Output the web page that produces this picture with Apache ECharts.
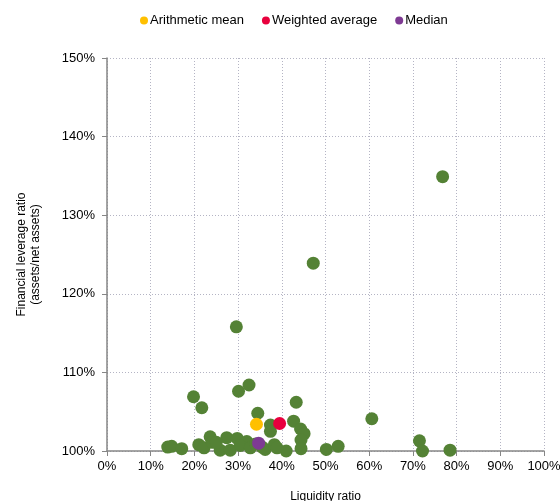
<!DOCTYPE html>
<html>
<head>
<meta charset="utf-8">
<script src="https://cdn.jsdelivr.net/npm/echarts@6/dist/echarts.min.js"></script>
<style>
  html, body { margin: 0; padding: 0; background: #fff; }
  #chart { width: 560px; height: 501px; }
</style>
</head>
<body>
<div id="chart"></div>
<script>
// Liquidity ratio (%) and financial leverage ratio (%) for each fund
const liquidity = [
  76.8, 47.2, 29.6, 19.8, 21.7, 30.1, 32.5, 43.3, 34.5, 60.6,
  42.7, 37.4, 37.4, 44.3, 45.1, 44.4, 44.4, 41.0, 27.4, 29.8,
  32.0, 25.9, 28.2, 30.5, 32.8, 36.2, 38.3, 38.9, 13.9, 14.8,
  17.1, 21.0, 22.2, 23.6, 24.1, 25.0, 50.2, 52.9, 71.5, 72.2,
  78.5, 34.0, 35.5
];
const leverage = [
  134.9, 123.9, 115.8, 106.9, 105.5, 107.6, 108.4, 106.2, 104.8, 104.1,
  103.8, 103.3, 102.5, 102.8, 102.2, 101.4, 100.3, 100.0, 101.7, 101.6,
  101.2, 100.1, 100.1, 100.7, 100.4, 100.2, 100.8, 100.4, 100.5, 100.6,
  100.3, 100.8, 100.4, 101.8, 101.1, 101.1, 100.2, 100.6, 101.3, 100.0,
  100.1, 100.9, 100.5
];

// Summary statistics: [liquidity %, leverage %]
const arithmeticMean = [34.2, 103.4];
const weightedAverage = [39.5, 103.5];
const median = [34.7, 101.0];

const xTicks = { min: 0, max: 100, step: 10 };
const yTicks = { min: 100, max: 150, step: 10 };

const funds = liquidity.map((x, i) => [x, leverage[i]]);

const font = 'Liberation Sans, Arial, sans-serif';
const axisGray = '#868686';
const gridStyle = { color: '#b4b4c4', type: [1, 2], width: 1 };

const chart = echarts.init(document.getElementById('chart'), null, { renderer: 'canvas' });
chart.setOption({
  animation: false,
  textStyle: { fontFamily: font },
  legend: {
    top: 9,
    left: 135,
    icon: 'circle',
    itemWidth: 8,
    itemHeight: 8,
    itemGap: 18,
    textStyle: { fontSize: 13, color: '#000', fontFamily: font, padding: [0, 0, 0, -3] },
    data: ['Arithmetic mean', 'Weighted average', 'Median']
  },
  grid: { left: 107, right: 16, top: 58, bottom: 50, outerBoundsMode: 'none', containLabel: false },
  xAxis: {
    type: 'value',
    min: xTicks.min, max: xTicks.max, interval: xTicks.step,
    name: 'Liquidity ratio',
    nameLocation: 'middle',
    nameGap: 40,
    nameTextStyle: { fontSize: 12, color: '#000', fontFamily: font },
    axisLine: { show: true, lineStyle: { color: axisGray, width: 1.5 } },
    axisTick: { show: true, length: 5, inside: false, lineStyle: { color: axisGray } },
    axisLabel: { formatter: v => v + '%', fontSize: 13, color: '#000', margin: 9 },
    splitLine: { show: true, lineStyle: gridStyle }
  },
  yAxis: {
    type: 'value',
    min: yTicks.min, max: yTicks.max, interval: yTicks.step,
    name: 'Financial leverage ratio\n(assets/net assets)',
    nameLocation: 'middle',
    nameGap: 64,
    nameRotate: 90,
    nameTextStyle: { fontSize: 12, color: '#000', fontFamily: font, lineHeight: 14 },
    axisLine: { show: true, lineStyle: { color: axisGray, width: 1.5 } },
    axisTick: { show: true, length: 5, inside: false, lineStyle: { color: axisGray } },
    axisLabel: { formatter: v => v + '%', fontSize: 13, color: '#000', margin: 12 },
    splitLine: { show: true, lineStyle: gridStyle }
  },
  series: [
    {
      name: 'Funds',
      type: 'scatter',
      symbolSize: 13,
      itemStyle: { color: '#548235', opacity: 1 },
      data: funds,
      z: 2
    },
    {
      name: 'Arithmetic mean',
      type: 'scatter',
      symbolSize: 13,
      itemStyle: { color: '#FFC000', opacity: 1 },
      data: [arithmeticMean],
      z: 3
    },
    {
      name: 'Weighted average',
      type: 'scatter',
      symbolSize: 13,
      itemStyle: { color: '#E8003D', opacity: 1 },
      data: [weightedAverage],
      z: 3
    },
    {
      name: 'Median',
      type: 'scatter',
      symbolSize: 13,
      itemStyle: { color: '#7E3A93', opacity: 1 },
      data: [median],
      z: 3
    }
  ]
});
</script>
</body>
</html>
